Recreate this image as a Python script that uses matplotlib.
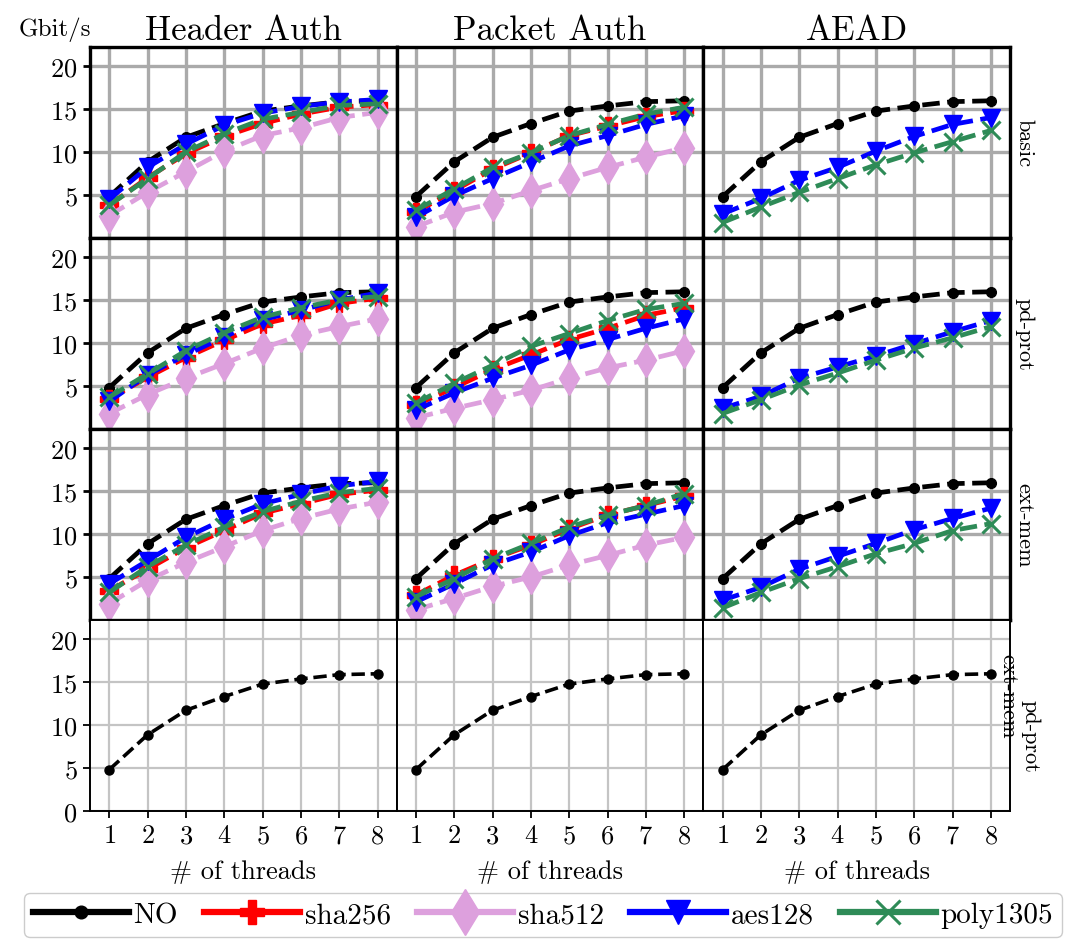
import matplotlib
matplotlib.use("Agg")
import matplotlib.pyplot as plt
from matplotlib.lines import Line2D

plt.rcParams['font.family'] = ['cmr10', 'DejaVu Serif']
plt.rcParams['axes.formatter.use_mathtext'] = True
plt.rcParams['mathtext.fontset'] = 'cm'

threads = [1, 2, 3, 4, 5, 6, 7, 8]
col_titles = ["Header Auth", "Packet Auth", "AEAD"]
row_labels = ["basic", "pd-prot", "ext-mem", "ext-mem\npd-prot"]
series_names = ["NO", "sha256", "sha512", "aes128", "poly1305"]

no_auth = [4.8, 8.85, 11.7, 13.3, 14.75, 15.35, 15.85, 15.95]

# basic
header_basic = {
    "sha256":   [3.8, 7.0, 9.8, 11.8, 13.3, 14.4, 15.2, 15.5],
    "sha512":   [2.6, 5.3, 7.7, 10.1, 11.9, 12.8, 14.0, 14.6],
    "aes128":   [4.5, 8.2, 10.9, 13.1, 14.5, 15.3, 15.8, 16.1],
    "poly1305": [3.8, 6.9, 10.0, 12.1, 13.8, 14.6, 15.4, 15.6],
}
packet_basic = {
    "sha256":   [3.0, 5.5, 8.0, 9.9, 11.9, 13.0, 14.1, 14.8],
    "sha512":   [1.3, 3.0, 4.0, 5.5, 6.9, 8.2, 9.4, 10.5],
    "aes128":   [2.4, 4.9, 6.9, 8.8, 10.7, 11.9, 13.2, 14.2],
    "poly1305": [3.2, 5.7, 8.2, 9.9, 11.9, 13.2, 14.4, 15.2],
}
aead_basic = {
    "aes128":   [2.8, 4.6, 6.7, 8.2, 10.1, 11.8, 13.2, 14.0],
    "poly1305": [1.8, 3.6, 5.3, 6.9, 8.5, 9.9, 11.2, 12.5],
}
# pd-prot
header_pdprot = {
    "sha256":   [3.5, 6.0, 8.3, 10.3, 12.2, 13.2, 14.6, 15.2],
    "sha512":   [1.8, 4.0, 5.9, 7.6, 9.4, 10.9, 11.9, 12.8],
    "aes128":   [3.2, 6.3, 8.6, 10.7, 12.7, 13.8, 15.0, 15.8],
    "poly1305": [3.7, 6.4, 9.1, 11.2, 13.0, 14.1, 15.0, 15.4],
}
packet_pdprot = {
    "sha256":   [2.8, 4.8, 6.9, 8.6, 10.4, 11.7, 13.2, 14.1],
    "sha512":   [1.3, 2.4, 3.4, 4.5, 5.9, 7.1, 8.0, 9.1],
    "aes128":   [2.2, 4.2, 5.9, 7.4, 9.2, 10.4, 11.7, 12.8],
    "poly1305": [3.0, 5.3, 7.4, 9.6, 11.1, 12.6, 13.9, 14.6],
}
aead_pdprot = {
    "aes128":   [2.4, 3.8, 5.9, 7.2, 8.5, 9.9, 11.3, 12.6],
    "poly1305": [1.8, 3.4, 5.1, 6.5, 8.0, 9.4, 10.6, 11.9],
}
# ext-mem
header_extmem = {
    "sha256":   [3.4, 5.9, 8.4, 10.4, 12.4, 13.5, 14.6, 15.1],
    "sha512":   [1.9, 4.6, 6.7, 8.5, 10.4, 11.8, 12.9, 13.7],
    "aes128":   [4.2, 6.9, 9.6, 11.7, 13.5, 14.6, 15.6, 16.1],
    "poly1305": [3.2, 6.2, 8.7, 10.8, 12.6, 13.8, 14.8, 15.3],
}
packet_extmem = {
    "sha256":   [2.9, 5.2, 7.1, 8.7, 10.6, 12.2, 13.3, 14.4],
    "sha512":   [1.2, 2.5, 3.9, 5.0, 6.4, 7.5, 8.7, 9.6],
    "aes128":   [2.1, 4.2, 6.4, 7.9, 9.8, 11.3, 12.3, 13.3],
    "poly1305": [2.7, 4.8, 7.1, 8.9, 10.8, 12.2, 13.3, 14.7],
}
aead_extmem = {
    "aes128":   [2.3, 3.8, 5.9, 7.4, 8.9, 10.5, 11.8, 13.0],
    "poly1305": [1.4, 3.2, 4.8, 6.2, 7.7, 8.9, 10.4, 11.2],
}
panels = [
    [header_basic, packet_basic, aead_basic],
    [header_pdprot, packet_pdprot, aead_pdprot],
    [header_extmem, packet_extmem, aead_extmem],
    [{}, {}, {}],
]

styles = {
    "NO":       dict(color="black", marker="o", ms=7, mew=1),
    "sha256":   dict(color="red", marker="P", ms=13, mew=1),
    "sha512":   dict(color="#dda0dd", marker="d", ms=17, mew=1),
    "aes128":   dict(color="blue", marker="v", ms=13, mew=1),
    "poly1305": dict(color="#2e8b57", marker="x", ms=13, mew=2.2),
}

W, H = 1071, 945
fig = plt.figure(figsize=(W / 100, H / 100), dpi=100)
left, right = 90 / W, 1010 / W
top, bottom = 1 - 48 / H, 1 - 812 / H
gs = fig.add_gridspec(4, 3, left=left, right=right, top=top, bottom=bottom,
                      hspace=0, wspace=0)

for r in range(4):
    for c in range(3):
        ax = fig.add_subplot(gs[r, c])
        ax.set_xlim(0.5, 8.5)
        ax.set_ylim(0, 22.2)
        ax.set_xticks(threads)
        ax.set_axisbelow(True)
        if r < 3:
            ax.set_yticks([5, 10, 15, 20])
            ax.grid(True, color="#aaaaaa", lw=2.4)
            for s in ax.spines.values():
                s.set_linewidth(2.4)
                s.set_zorder(5)
            ax.plot(threads, no_auth, ls="--", lw=3.4, zorder=3, **styles["NO"])
            for name in series_names[1:]:
                if name in panels[r][c]:
                    ax.plot(threads, panels[r][c][name], ls="--", lw=3.4,
                            zorder=3, **styles[name])
            ax.tick_params(axis="x", bottom=False, labelbottom=False)
        else:
            ax.set_yticks([0, 5, 10, 15, 20])
            ax.grid(True, color="#c4c4c4", lw=1.6)
            for s in ax.spines.values():
                s.set_linewidth(1.4)
            ax.plot(threads, no_auth, ls="--", lw=2.6, color="black",
                    marker="o", ms=6.5, zorder=3)
            ax.tick_params(axis="x", labelsize=19, length=5, width=1.3,
                           pad=4)
            ax.set_xlabel("# of threads", fontsize=19, labelpad=9)
        if c == 0:
            ax.tick_params(axis="y", labelsize=19, length=5,
                           width=2 if r < 3 else 1.3, pad=4)
        else:
            ax.tick_params(axis="y", left=False, labelleft=False)
        if r == 0:
            ax.set_title(col_titles[c], fontsize=25, pad=6)
        if c == 2:
            lines = row_labels[r].split("\n")
            if len(lines) == 1:
                pos = [(1.045, 0.5)]
            else:
                pos = [((1008 - 704) / 306, (812 - 697) / 190),
                       ((1030 - 704) / 306, (812 - 737) / 190)]
            for (xp, yp), txt in zip(pos, lines):
                ax.text(xp, yp, txt, transform=ax.transAxes, rotation=270,
                        ha="center", va="center", fontsize=16)

fig.text(55 / W, 1 - 30 / H, "Gbit/s", ha="center", va="center", fontsize=18)

handles = []
for name in series_names:
    st = styles[name]
    handles.append(Line2D([0], [0], ls="-", lw=4.5, color=st["color"],
                          marker=st["marker"],
                          ms=st["ms"] * (1.35 if name != "NO" else 1.3),
                          mew=st["mew"]))
leg = fig.legend(handles, series_names, loc="lower center",
                 bbox_to_anchor=(0.507, -0.008), ncol=5, fontsize=21,
                 handlelength=3.3, handletextpad=0.15, columnspacing=0.9,
                 borderpad=0.3, fancybox=True, framealpha=1,
                 edgecolor="#cccccc")

fig.savefig("out.png", dpi=100)
